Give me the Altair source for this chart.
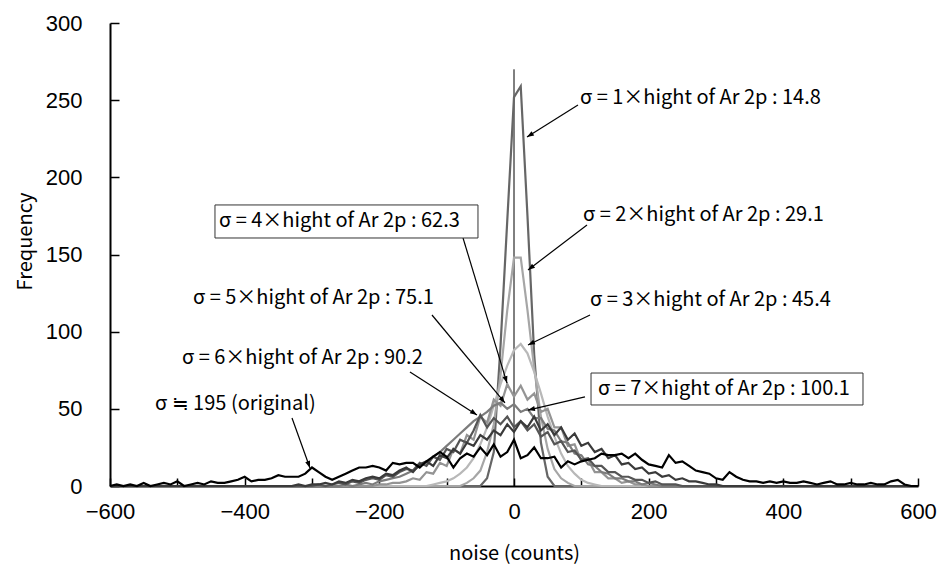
import math
import altair as alt
import pandas as pd

# Histogram bins of the noise distribution (counts), 10-count wide
BINS = list(range(-600, 601, 10))

# Original noise (sigma ~ 195), one value per bin from -600 to 600
orig_values = [
    0, 1, 0, 1, 0, 2, 0, 1, 2, 1,
    3, 0, 1, 2, 1, 3, 2, 2, 3, 4,
    6, 3, 4, 4, 5, 7, 6, 6, 6, 8,
    12, 9, 6, 4, 6, 8, 10, 12, 12, 13,
    12, 10, 15, 14, 15, 15, 12, 16, 19, 22,
    19, 12, 18, 21, 19, 25, 20, 27, 19, 22,
    30, 18, 20, 25, 18, 18, 19, 12, 16, 14,
    16, 17, 18, 21, 20, 20, 21, 18, 21, 17,
    14, 13, 12, 20, 15, 16, 13, 10, 9, 8,
    5, 4, 9, 6, 4, 3, 3, 2, 3, 2,
    3, 2, 2, 3, 2, 1, 2, 3, 1, 1,
    2, 1, 1, 2, 1, 1, 3, 4, 1, 0, 0,
]

# Noise scaled to n x height of the Ar 2p peak: (first bin, counts)
sig1_start, sig1_values = -50, [0, 5, 22, 91, 172, 252, 259, 175, 85, 28, 6, 0]
sig2_start, sig2_values = -80, [0, 2, 5, 10, 22, 40, 72, 114, 148, 148, 114, 76,
                                45, 24, 11, 5, 2, 0]
sig3_start, sig3_values = -130, [0, 1, 2, 3, 5, 8, 12, 18, 27, 38, 52, 66, 78, 88,
                                 92, 86, 74, 60, 45, 32, 21, 13, 8, 4, 2, 1, 0]
sig4_start, sig4_values = -210, [0, 1, 1, 2, 2, 3, 5, 4, 9, 8, 15, 13, 24, 21, 33,
                                 30, 45, 41, 56, 52, 66, 58, 65, 56, 60, 48, 50, 38,
                                 38, 26, 27, 16, 17, 9, 9, 5, 5, 2, 3, 1, 1, 0]
sig5_start, sig5_values = -260, [0, 1, 0, 1, 2, 1, 3, 4, 5, 6, 8, 10, 13, 15, 19, 22,
                                 26, 30, 34, 38, 42, 45, 48, 52, 54, 50, 53, 48, 50,
                                 44, 44, 37, 36, 29, 28, 21, 20, 14, 13, 9, 8, 5, 5,
                                 3, 3, 1, 2, 1, 0]
sig6_start, sig6_values = -310, [0, 0, 1, 0, 1, 2, 1, 3, 2, 4, 5, 4, 7, 6, 9, 11, 10,
                                 15, 13, 19, 17, 24, 22, 30, 28, 36, 46, 38, 44, 40,
                                 45, 38, 42, 36, 40, 32, 35, 27, 29, 22, 23, 17, 18,
                                 13, 13, 9, 9, 6, 6, 4, 4, 2, 3, 1, 1, 1, 0]
sig7_start, sig7_values = -340, [0, 0, 1, 0, 1, 1, 2, 1, 3, 2, 4, 3, 5, 6, 5, 8, 7,
                                 10, 12, 9, 14, 16, 13, 20, 18, 24, 21, 28, 26, 33,
                                 30, 36, 33, 40, 35, 42, 38, 45, 36, 40, 33, 38, 30,
                                 34, 26, 28, 22, 24, 18, 20, 14, 15, 11, 12, 8, 9, 6,
                                 7, 4, 5, 3, 3, 2, 1, 1, 0]

series = [
    ("s1", sig1_start, sig1_values, "#666666"),
    ("s2", sig2_start, sig2_values, "#a6a6a6"),
    ("s3", sig3_start, sig3_values, "#b8b8b8"),
    ("s4", sig4_start, sig4_values, "#949494"),
    ("s5", sig5_start, sig5_values, "#7c7c7c"),
    ("s6", sig6_start, sig6_values, "#555555"),
    ("s7", sig7_start, sig7_values, "#3a3a3a"),
    ("orig", -600, orig_values, "#000000"),
]

# Annotation labels: (text, x, y) anchored at the left edge, vertically centred
labels = [
    ("σ = 1×hight of Ar 2p : 14.8", 98.0, 251.4),
    ("σ = 2×hight of Ar 2p : 29.1", 102.5, 175.6),
    ("σ = 3×hight of Ar 2p : 45.4", 112.9, 120.5),
    ("σ = 4×hight of Ar 2p : 62.3", -438.1, 171.4),
    ("σ = 5×hight of Ar 2p : 75.1", -476.7, 121.8),
    ("σ = 6×hight of Ar 2p : 90.2", -493.1, 82.9),
    ("σ = 7×hight of Ar 2p : 100.1", 124.8, 62.9),
    ("σ ≒ 195 (original)", -533.2, 53.1),
]
# Frames around two of the labels: x, x2, y, y2
boxes = [
    (-444.1, -53.5, 160.7, 182.1),
    (114.4, 518.3, 52.5, 73.2),
]
# Arrows: start (x, y) -> tip (x, y)
arrows = [
    (95.0, 246.9, 19.3, 226.1),
    (108.4, 169.1, 20.8, 140.0),
    (112.9, 110.8, 20.8, 91.4),
    (-75.7, 160.7, -10.4, 66.7),
    (-121.8, 110.8, -13.4, 53.8),
    (-154.5, 73.9, -55.0, 46.0),
    (105.4, 57.7, 20.8, 49.2),
    (-329.7, 44.1, -303.0, 11.7),
]

W, H = 808, 463
X_DOM, Y_DOM = [-600, 600], [0, 300]
FONT = "Noto Sans CJK JP"
AXIS_FONT = "Liberation Sans"

xs = alt.Scale(domain=X_DOM, nice=False, zero=False)
ys = alt.Scale(domain=Y_DOM, nice=False)

x_axis = alt.Axis(
    values=list(range(-600, 601, 100)),
    labelExpr="datum.value % 200 == 0 ? datum.label : ''",
    labelFlush=False, labelOverlap=False,
    grid=False, domainColor="black", domainWidth=2,
    tickColor="black", tickWidth=1.5, tickSize=alt.ExprRef(expr="-8"),
    labelPadding=23, labelFont=AXIS_FONT, labelFontSize=22, labelColor="black",
    title="noise (counts)", titleFont=FONT, titleFontSize=20, titleFontWeight="normal",
    titleColor="black", titleX=404, titleY=67, titleBaseline="middle",
)
y_axis = alt.Axis(
    values=list(range(0, 301, 50)),
    labelFlush=False, labelOverlap=False,
    grid=False, domainColor="black", domainWidth=2,
    tickColor="black", tickWidth=1.5, tickSize=alt.ExprRef(expr="-9"),
    labelPadding=37, labelFont=AXIS_FONT, labelFontSize=22, labelColor="black",
    title="Frequency", titleFont=FONT, titleFontSize=20, titleFontWeight="normal",
    titleColor="black", titleX=-85, titleY=218, titleAngle=270,
    titleBaseline="middle", titleAlign="center",
)

layers = []

# Reference line at noise = 0
ref = pd.DataFrame({"x": [0], "y": [0], "y2": [270]})
layers.append(
    alt.Chart(ref).mark_rule(color="black", strokeWidth=1).encode(
        x=alt.X("x:Q", scale=xs, axis=x_axis),
        y=alt.Y("y:Q", scale=ys, axis=y_axis),
        y2="y2:Q",
    )
)

for name, start, vals, color in series:
    lookup = {start + 10 * i: v for i, v in enumerate(vals)}
    df = pd.DataFrame({"noise": BINS, "freq": [lookup.get(b, 0) for b in BINS]})
    layers.append(
        alt.Chart(df).mark_line(color=color, strokeWidth=2.2).encode(
            x=alt.X("noise:Q", scale=xs, axis=x_axis),
            y=alt.Y("freq:Q", scale=ys, axis=y_axis),
        )
    )

# Arrow shafts and heads
px_x = W / (X_DOM[1] - X_DOM[0])
px_y = H / (Y_DOM[1] - Y_DOM[0])
arrow_df = pd.DataFrame(
    [
        {
            "x": x1, "y": y1, "x2": x2, "y2": y2,
            "ang": math.degrees(math.atan2((x2 - x1) * px_x, (y2 - y1) * px_y)) % 360,
        }
        for x1, y1, x2, y2 in arrows
    ]
)
layers.append(
    alt.Chart(arrow_df).mark_rule(color="black", strokeWidth=1.2).encode(
        x=alt.X("x:Q", scale=xs), y=alt.Y("y:Q", scale=ys), x2="x2:Q", y2="y2:Q"
    )
)
layers.append(
    alt.Chart(arrow_df).mark_point(
        shape="M0,0 L-0.4,1.1 L0.4,1.1 Z", filled=True, color="black", opacity=1, size=160
    ).encode(
        x=alt.X("x2:Q", scale=xs),
        y=alt.Y("y2:Q", scale=ys),
        angle=alt.Angle("ang:Q", scale=None),
    )
)

box_df = pd.DataFrame(boxes, columns=["x", "x2", "y", "y2"])
layers.append(
    alt.Chart(box_df).mark_rect(fill="white", stroke="#333333", strokeWidth=1).encode(
        x=alt.X("x:Q", scale=xs), x2="x2:Q", y=alt.Y("y:Q", scale=ys), y2="y2:Q"
    )
)

label_df = pd.DataFrame(labels, columns=["text", "x", "y"])
layers.append(
    alt.Chart(label_df).mark_text(
        align="left", baseline="middle", font=FONT, fontSize=20, color="black"
    ).encode(x=alt.X("x:Q", scale=xs), y=alt.Y("y:Q", scale=ys), text="text:N")
)

chart = (
    alt.layer(*layers)
    .properties(width=W, height=H, background="white",
                padding={"left": 110, "top": 23, "right": 23, "bottom": 89},
                autosize=alt.AutoSizeParams(type="none"))
    .configure_view(stroke=None)
)

chart.save("out.html", embed_options={"renderer": "svg", "actions": False})
